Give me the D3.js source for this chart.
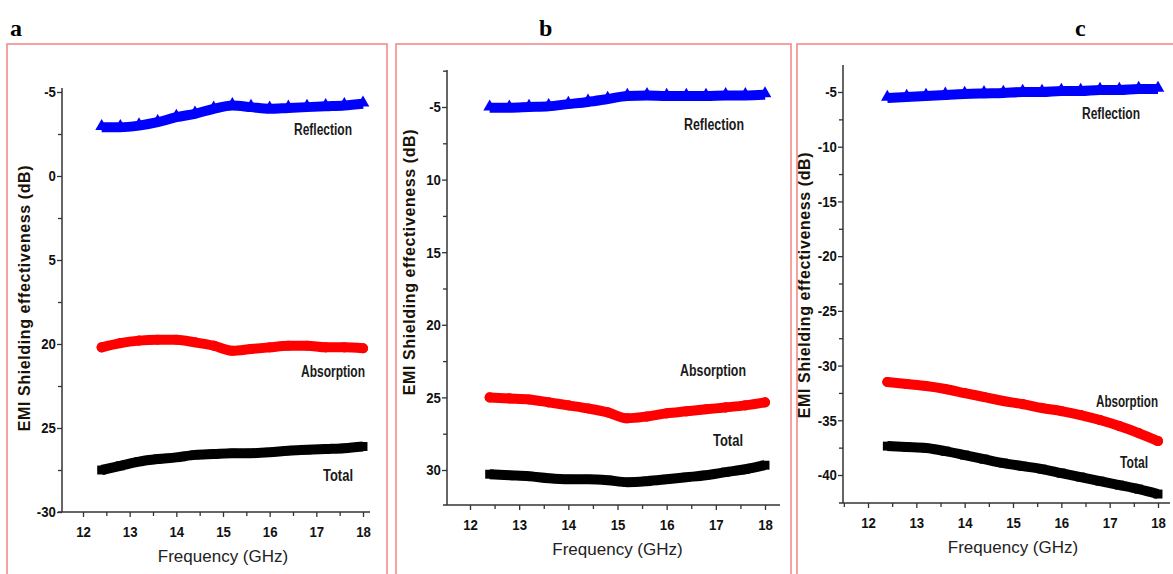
<!DOCTYPE html>
<html>
<head>
<meta charset="utf-8">
<script src="https://cdn.jsdelivr.net/npm/d3@7"></script>
<style>
    body { margin: 0; background: #fff; }
    svg { display: block; }
    .tick text { font-family: "Liberation Sans", Arial, sans-serif; font-weight: bold; font-size: 15px; fill: #111; }
    .axis path, .axis line { stroke: #333; stroke-width: 1.3; }
</style>
</head>
<body>
<div id="chart"></div>
<script>
// EMI shielding effectiveness vs frequency, three samples (a, b, c)

const freqs = [12.4, 12.8, 13.2, 13.6, 14.0, 14.4, 14.8, 15.2, 15.6, 16.0, 16.4, 16.8, 17.2, 17.6, 18.0];
const xTicks = [12, 13, 14, 15, 16, 17, 18];

// panel a
const reflectionA = [-7.1, -7.1, -7.0, -6.8, -6.5, -6.3, -6.0, -5.8, -5.9, -6.0, -5.95, -5.9, -5.85, -5.8, -5.7];
const absorptionA = [-20.2, -19.95, -19.8, -19.75, -19.75, -19.9, -20.1, -20.4, -20.3, -20.2, -20.1, -20.1, -20.2, -20.2, -20.25];
const totalA = [-27.5, -27.25, -27.0, -26.85, -26.75, -26.6, -26.55, -26.5, -26.5, -26.45, -26.35, -26.3, -26.25, -26.2, -26.1];
const yTicksA = [-5, -10, -15, -20, -25, -30];
const yLabelsA = ["-5", "0", "5", "20", "25", "-30"];

// panel b
const reflectionB = [-5.05, -5.05, -5.0, -4.95, -4.8, -4.65, -4.45, -4.25, -4.2, -4.25, -4.25, -4.25, -4.2, -4.2, -4.15];
const absorptionB = [-25.0, -25.07, -25.14, -25.34, -25.55, -25.76, -26.03, -26.44, -26.31, -26.1, -25.96, -25.82, -25.69, -25.55, -25.34];
const totalB = [-30.29, -30.36, -30.43, -30.57, -30.64, -30.64, -30.7, -30.84, -30.77, -30.64, -30.5, -30.36, -30.15, -29.95, -29.67];
const yTicksB = [-5, -10, -15, -20, -25, -30];
const yLabelsB = ["-5", "10", "15", "20", "25", "30"];

// panel c
const reflectionC = [-5.55, -5.46, -5.37, -5.27, -5.18, -5.13, -5.09, -5.0, -5.0, -4.91, -4.91, -4.82, -4.82, -4.73, -4.73];
const absorptionC = [-31.5, -31.69, -31.87, -32.14, -32.51, -32.87, -33.24, -33.52, -33.88, -34.16, -34.52, -34.98, -35.53, -36.17, -36.9];
const totalC = [-37.36, -37.45, -37.54, -37.82, -38.18, -38.55, -38.91, -39.19, -39.46, -39.83, -40.19, -40.56, -40.92, -41.29, -41.74];
const yTicksC = [-5, -10, -15, -20, -25, -30, -35, -40];
const yLabelsC = ["-5", "-10", "-15", "-20", "-25", "-30", "-35", "-40"];

const seriesNames = ["Reflection", "Absorption", "Total"];
const seriesColors = ["#0000ff", "#ff0000", "#000000"];
const seriesSymbols = [d3.symbolTriangle, d3.symbolCircle, d3.symbolSquare];

class ShieldPanel {

    constructor(svg, cfg) {
        this.svg = svg;
        this.cfg = cfg;
        this.initvis();
    }

    initvis() {
        let vis = this;
        let c = vis.cfg;

        vis.g = vis.svg.append("g");

        // panel frame
        vis.g.append("rect")
            .attr("x", c.box[0]).attr("y", c.box[1])
            .attr("width", c.box[2] - c.box[0]).attr("height", c.box[3] - c.box[1])
            .attr("fill", "none")
            .attr("stroke", "#f28b8b")
            .attr("stroke-width", 1.6);

        vis.g.append("text")
            .attr("x", c.letterX).attr("y", 36)
            .style("font-family", "'Liberation Serif', 'Times New Roman', serif")
            .style("font-weight", "bold")
            .style("font-size", "24px")
            .text(c.letter);

        vis.x = d3.scaleLinear().domain([12, 18]).range(c.xRange);
        vis.y = d3.scaleLinear().domain([c.yTicks[0], c.yTicks[c.yTicks.length - 1]]).range(c.yRange);

        let xMinor = d3.range(11.5, 18.6, 0.5).filter(d => !xTicks.includes(d));
        let yMinor = c.yTicks.slice(0, -1).map(d => d - 2.5);
        yMinor.push(c.yTicks[0] + 2.5);

        // y axis
        let yAxis = vis.g.append("g")
            .attr("class", "axis")
            .attr("transform", "translate(" + c.axisX + ",0)")
            .call(d3.axisLeft(vis.y).tickValues(c.yTicks).tickSize(5).tickPadding(2)
                .tickFormat((d, i) => c.yLabels[i]));
        yAxis.select(".domain").remove();
        yAxis.selectAll(".tick text").attr("transform", "scale(0.88,1)");
        vis.g.append("g")
            .attr("class", "axis")
            .attr("transform", "translate(" + c.axisX + ",0)")
            .call(d3.axisLeft(vis.y).tickValues(yMinor.filter(d => vis.y(d) > c.axisTop && vis.y(d) < c.axisY)).tickSize(4).tickFormat(""))
            .select(".domain").remove();
        vis.g.append("line")
            .attr("x1", c.axisX).attr("x2", c.axisX)
            .attr("y1", c.axisTop).attr("y2", c.axisY)
            .attr("stroke", "#333").attr("stroke-width", 1.5);

        // x axis
        let xAxis = vis.g.append("g")
            .attr("class", "axis")
            .attr("transform", "translate(0," + c.axisY + ")")
            .call(d3.axisBottom(vis.x).tickValues(xTicks).tickSize(5).tickPadding(9).tickFormat(d3.format("d")));
        xAxis.select(".domain").remove();
        xAxis.selectAll(".tick text").attr("transform", "scale(0.88,1)");
        vis.g.append("g")
            .attr("class", "axis")
            .attr("transform", "translate(0," + c.axisY + ")")
            .call(d3.axisBottom(vis.x).tickValues(xMinor.filter(d => vis.x(d) > c.axisX && vis.x(d) < c.axisRight)).tickSize(4).tickFormat(""))
            .select(".domain").remove();
        vis.g.append("line")
            .attr("x1", c.axisX - 4).attr("x2", c.axisRight)
            .attr("y1", c.axisY).attr("y2", c.axisY)
            .attr("stroke", "#333").attr("stroke-width", 1.5);

        vis.g.append("text")
            .attr("x", vis.x(15)).attr("y", c.axisY + 50)
            .attr("text-anchor", "middle")
            .style("font-family", "'Liberation Sans', Arial, sans-serif")
            .style("font-size", "17px")
            .style("fill", "#222")
            .text("Frequency (GHz)");

        vis.g.append("text")
            .attr("transform", "translate(" + c.titleX + "," + c.titleY + ") rotate(-90)")
            .attr("text-anchor", "middle")
            .style("font-family", "'Liberation Sans', Arial, sans-serif")
            .style("font-weight", "bold")
            .style("font-size", "16px")
            .style("letter-spacing", "0.6px")
            .style("fill", "#1a1206")
            .text("EMI Shielding effectiveness (dB)");

        vis.drawSeries();
    }

    drawSeries() {
        let vis = this;
        let c = vis.cfg;

        let line = d3.line()
            .x(d => vis.x(d.f))
            .y(d => vis.y(d.v))
            .curve(d3.curveMonotoneX);

        c.series.forEach((vals, i) => {
            let pts = freqs.map((f, j) => ({f: f, v: vals[j]}));
            let grp = vis.g.append("g");

            grp.append("path")
                .datum(pts)
                .attr("d", line)
                .attr("fill", "none")
                .attr("stroke", seriesColors[i])
                .attr("stroke-width", 10)
                .attr("stroke-linecap", i === 1 ? "round" : "butt");

            grp.selectAll("path.mark")
                .data(pts)
                .enter()
                .append("path")
                .attr("class", "mark")
                .attr("transform", d => "translate(" + vis.x(d.f) + "," + (vis.y(d.v) + (i === 0 ? -1 : 0)) + ")")
                .attr("d", d3.symbol().type(seriesSymbols[i]).size(i === 0 ? 70 : 80))
                .attr("fill", seriesColors[i]);

            let lab = c.labels[i];
            vis.g.append("text")
                .attr("x", lab[0]).attr("y", lab[1])
                .attr("text-anchor", "middle")
                .attr("dominant-baseline", "middle")
                .attr("textLength", c.labelWidths[i])
                .attr("lengthAdjust", "spacingAndGlyphs")
                .style("font-family", "'Liberation Sans', Arial, sans-serif")
                .style("font-weight", "bold")
                .style("font-size", "16px")
                .style("fill", "#1a1a1a")
                .text(seriesNames[i]);
        });
    }
}

const svg = d3.select("#chart").append("svg")
    .attr("width", 1173)
    .attr("height", 574);

const panels = [
    {
        letter: "a", letterX: 10, box: [7, 44, 387, 590],
        axisX: 62, axisTop: 88, axisY: 512, axisRight: 370,
        xRange: [83, 363], yRange: [92, 512],
        yTicks: yTicksA, yLabels: yLabelsA,
        series: [reflectionA, absorptionA, totalA],
        labels: [[323, 131], [333, 373], [338, 477]],
        labelWidths: [58, 64, 30],
        titleX: 30, titleY: 298
    },
    {
        letter: "b", letterX: 539, box: [396, 44, 791, 590],
        axisX: 447, axisTop: 70, axisY: 505, axisRight: 780,
        xRange: [470, 765], yRange: [107, 470],
        yTicks: yTicksB, yLabels: yLabelsB,
        series: [reflectionB, absorptionB, totalB],
        labels: [[714, 126], [713, 372], [728, 442]],
        labelWidths: [60, 66, 30],
        titleX: 415, titleY: 262
    },
    {
        letter: "c", letterX: 1075, box: [797, 44, 1180, 590],
        axisX: 843, axisTop: 65, axisY: 503, axisRight: 1170,
        xRange: [868, 1158], yRange: [92, 475],
        yTicks: yTicksC, yLabels: yLabelsC,
        series: [reflectionC, absorptionC, totalC],
        labels: [[1111, 115], [1127, 403], [1134, 464]],
        labelWidths: [58, 62, 28],
        titleX: 810, titleY: 285
    }
];

panels.forEach(p => new ShieldPanel(svg, p));
</script>
</body>
</html>
